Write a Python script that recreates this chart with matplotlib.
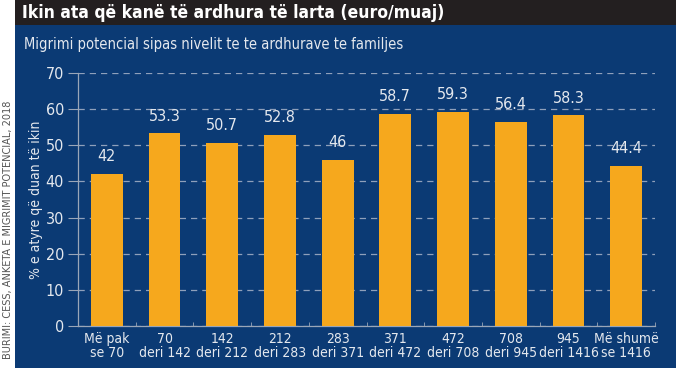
import matplotlib
matplotlib.use("Agg")
import matplotlib.pyplot as plt
from matplotlib.patches import Rectangle

categories = ["Më pak\nse 70", "70\nderi 142", "142\nderi 212", "212\nderi 283", "283\nderi 371",
              "371\nderi 472", "472\nderi 708", "708\nderi 945", "945\nderi 1416", "Më shumë\nse 1416"]
values = [42, 53.3, 50.7, 52.8, 46, 58.7, 59.3, 56.4, 58.3, 44.4]
value_labels = ["42", "53.3", "50.7", "52.8", "46", "58.7", "59.3", "56.4", "58.3", "44.4"]
yticks = [0, 10, 20, 30, 40, 50, 60, 70]

title = "Ikin ata që kanë të ardhura të larta (euro/muaj)"
subtitle = "Migrimi potencial sipas nivelit te te ardhurave te familjes"
ylabel = "% e atyre që duan të ikin"
source = "BURIMI: CESS, ANKETA E MIGRIMIT POTENCIAL, 2018"

plt.rcParams['font.family'] = ['DejaVu Sans']
plt.rcParams['font.stretch'] = 'condensed'

BLUE = "#0b3a74"
BAR = "#f6a81d"
TXT = "#e4e8ee"
AX = "#9aa6b8"

W, H = 676, 371
fig = plt.figure(figsize=(W/100, H/100), dpi=100)
fig.patch.set_facecolor("white")

def fx(px): return px / W
def fy(py): return 1 - py / H

# backgrounds
fig.patches.append(Rectangle((fx(15), fy(368)), fx(676-15), (368-25)/H, transform=fig.transFigure,
                             facecolor=BLUE, edgecolor="none", zorder=-10))
fig.patches.append(Rectangle((fx(15), fy(25)), fx(676-15), 25/H, transform=fig.transFigure,
                             facecolor="#231f20", edgecolor="none", zorder=-10))

fig.text(fx(22), fy(13), title, color="white", fontsize=12.5, fontweight="bold", va="center", ha="left")
fig.text(fx(24), fy(45), subtitle, color=TXT, fontsize=10.5, va="center", ha="left")
fig.text(fx(8), fy(230), source, color="#555555", fontsize=7.8, rotation=90, va="center", ha="center")

ax = fig.add_axes([fx(78), fy(326), fx(655-78), (326-73)/H])
ax.set_facecolor("none")
x = list(range(len(categories)))
ax.bar(x, values, width=0.55, color=BAR, zorder=3)
for xi, v, lab in zip(x, values, value_labels):
    ax.annotate(lab, (xi, v), xytext=(0, 7), textcoords="offset points", ha="center", va="bottom",
                color=TXT, fontsize=11.5)

ax.set_xlim(-0.48, 9.47)
ax.set_ylim(0, 70)
ax.set_yticks(yticks)
ax.set_yticklabels([str(t) for t in yticks], color=TXT, fontsize=11.5)
ax.set_xticks(x)
ax.set_xticklabels(categories, color=TXT, fontsize=10, linespacing=1.0)
ax.set_xticks([i + 0.5 for i in range(-1, 10)], minor=True)
ax.tick_params(axis="x", which="major", length=0, pad=4)
ax.tick_params(axis="x", which="minor", length=3, color=AX, direction="in")
ax.tick_params(axis="y", length=7, color=AX, width=0.8, pad=3)
ax.yaxis.grid(True, linestyle=(0, (5, 4)), color="#8fa0bb", linewidth=0.9, zorder=1)
for s in ["top", "right"]:
    ax.spines[s].set_visible(False)
for s in ["left", "bottom"]:
    ax.spines[s].set_color(AX)
    ax.spines[s].set_linewidth(0.9)
ax.set_ylabel(ylabel, color=TXT, fontsize=10, labelpad=2)

fig.savefig("out.png", dpi=100)
